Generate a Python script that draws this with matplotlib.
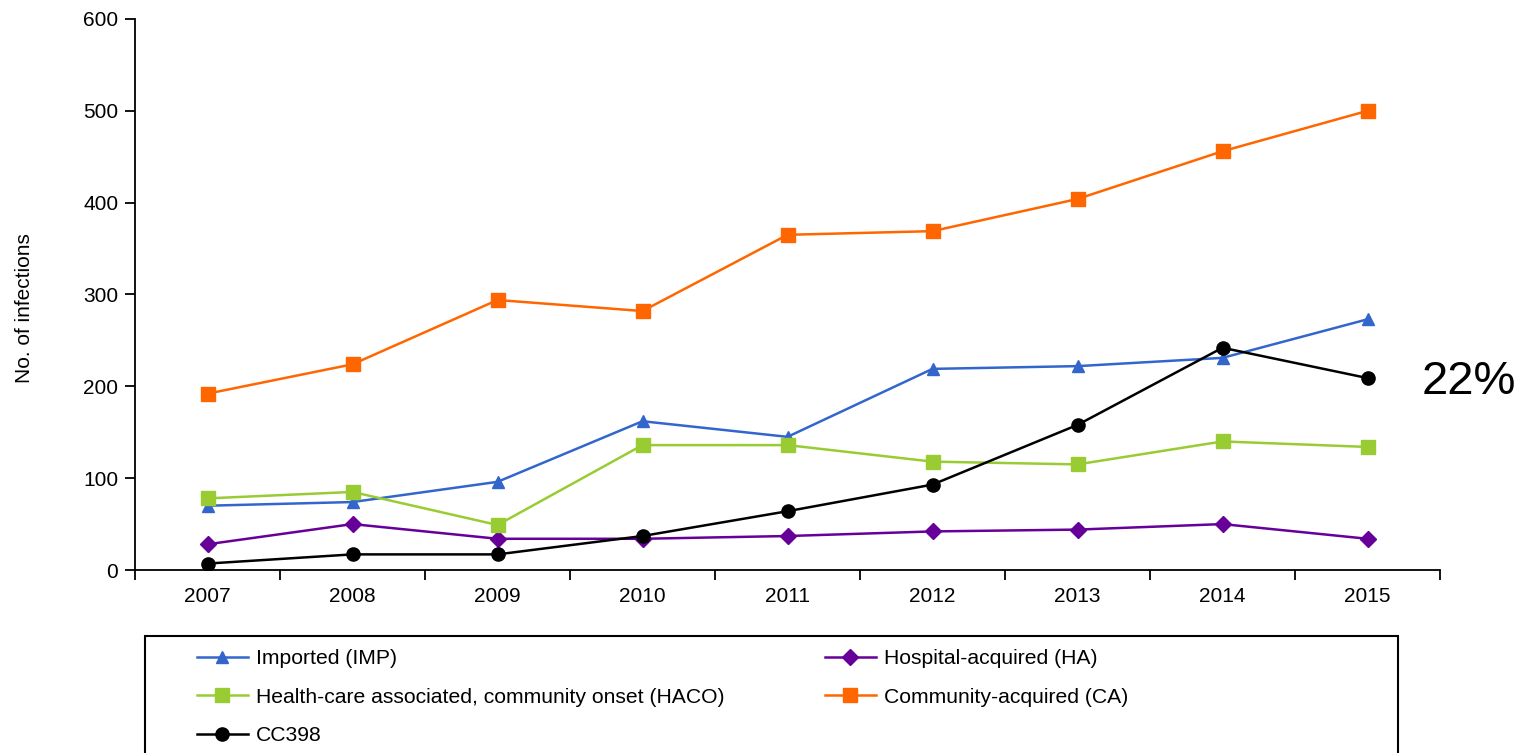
import numpy as np
import matplotlib.pyplot as plt
from matplotlib.patches import Rectangle

plt.rcParams['font.family'] = ['Liberation Sans', 'DejaVu Sans']

years = [2007, 2008, 2009, 2010, 2011, 2012, 2013, 2014, 2015]
imp = [70, 74, 96, 162, 145, 219, 222, 231, 273]
ha = [28, 50, 34, 34, 37, 42, 44, 50, 34]
haco = [78, 85, 49, 136, 136, 118, 115, 140, 134]
ca = [192, 224, 294, 282, 365, 369, 404, 456, 500]
cc398 = [7, 17, 17, 37, 64, 93, 158, 242, 209]

fig = plt.figure(figsize=(15.2, 7.53), dpi=100)
ax = fig.add_axes([135 / 1520, 1 - 570 / 753, 1305 / 1520, 551 / 753])

lw = 1.8
l_imp, = ax.plot(years, imp, color='#3366CC', marker='^', markersize=9, lw=lw,
                 label='Imported (IMP)')
l_ha, = ax.plot(years, ha, color='#660099', marker='D', markersize=8.5, lw=lw,
                label='Hospital-acquired (HA)')
l_haco, = ax.plot(years, haco, color='#99CC33', marker='s', markersize=10.5, lw=lw,
                  label='Health-care associated, community onset (HACO)')
l_ca, = ax.plot(years, ca, color='#FF6600', marker='s', markersize=10.5, lw=lw,
                label='Community-acquired (CA)')
l_cc, = ax.plot(years, cc398, color='black', marker='o', markersize=9.5, lw=lw,
                label='CC398')

ax.set_xlim(2006.5, 2015.5)
ax.set_ylim(0, 600)
ax.set_yticks(range(0, 601, 100))
ax.set_xticks(np.arange(2006.5, 2016, 1))
ax.set_xticklabels([])
ax.set_xticks(years, minor=True)
ax.set_xticklabels([str(y) for y in years], minor=True)
ax.tick_params(axis='x', which='major', direction='out', length=7, width=1.3)
ax.tick_params(axis='x', which='minor', length=0, pad=12, labelsize=15)
ax.tick_params(axis='y', direction='out', length=7, width=1.3, labelsize=15, pad=5)
for s in ['top', 'right']:
    ax.spines[s].set_visible(False)
for s in ['left', 'bottom']:
    ax.spines[s].set_linewidth(1.3)

fig.text(25 / 1520, 1 - 308 / 753, 'No. of infections', rotation=90,
         ha='center', va='center', fontsize=15)
fig.text(1469 / 1520, 1 - 382 / 753, '22%', ha='center', va='center', fontsize=34)

# legend box runs off the bottom of the figure
fig.patches.append(Rectangle((145 / 1520, -0.05), (1398 - 145) / 1520,
                             (1 - 636 / 753) + 0.05, transform=fig.transFigure,
                             fill=False, edgecolor='black', lw=1.5))

kw = dict(frameon=False, fontsize=15.2, handlelength=2.4, handletextpad=0.38,
          labelspacing=0.93, borderaxespad=0, borderpad=0, loc='upper left')
fig.legend(handles=[l_imp, l_haco, l_cc], bbox_to_anchor=(197 / 1520, 1 - 649 / 753), **kw)
fig.legend(handles=[l_ha, l_ca], bbox_to_anchor=(825 / 1520, 1 - 649 / 753), **kw)

fig.savefig('out.png', dpi=100)
